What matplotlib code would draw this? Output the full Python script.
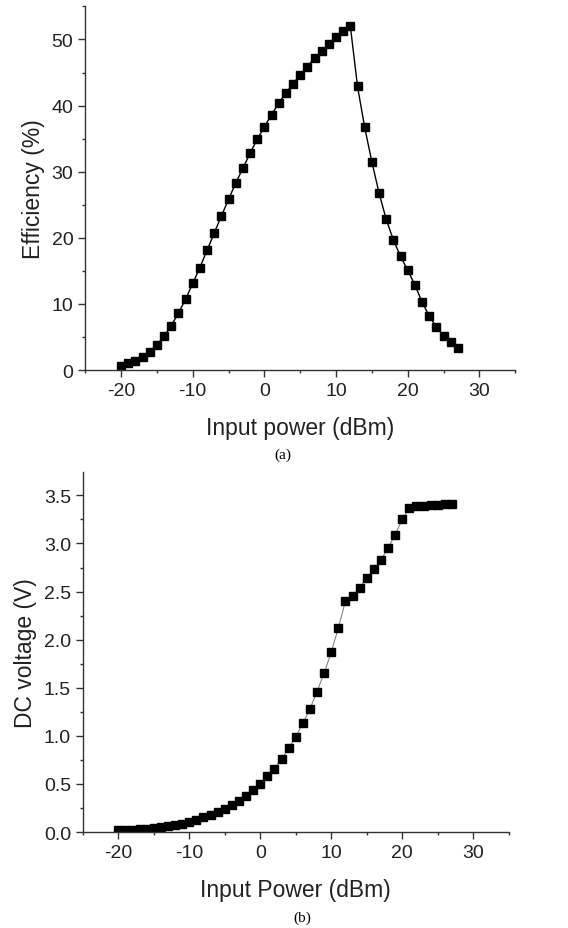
import matplotlib
matplotlib.use('Agg')
import matplotlib.pyplot as plt
from matplotlib.ticker import MultipleLocator

plt.rcParams['font.family'] = ['Liberation Sans', 'DejaVu Sans']
plt.rcParams['axes.unicode_minus'] = False

# input power (dBm), 1 dBm steps
p_in = list(range(-20, 28))

# (a) efficiency (%)
efficiency = [0.55, 1.0, 1.4, 1.9, 2.8, 3.8, 5.1, 6.7, 8.6, 10.7,
              13.1, 15.5, 18.1, 20.7, 23.3, 25.8, 28.3, 30.5, 32.8, 34.9,
              36.8, 38.6, 40.4, 41.9, 43.3, 44.7, 45.9, 47.2, 48.2, 49.3,
              50.4, 51.3, 52.0, 42.9, 36.7, 31.5, 26.8, 22.8, 19.7, 17.2,
              15.1, 12.9, 10.3, 8.2, 6.5, 5.2, 4.2, 3.3]

# (b) DC voltage (V)
dc_voltage = [0.02, 0.02, 0.025, 0.03, 0.035, 0.04, 0.05, 0.06, 0.07, 0.085,
              0.10, 0.13, 0.155, 0.18, 0.21, 0.24, 0.28, 0.32, 0.37, 0.44,
              0.50, 0.58, 0.66, 0.76, 0.87, 0.99, 1.13, 1.28, 1.46, 1.65,
              1.87, 2.12, 2.40, 2.45, 2.54, 2.64, 2.73, 2.83, 2.95, 3.09,
              3.25, 3.37, 3.385, 3.395, 3.40, 3.405, 3.41, 3.41]

fig = plt.figure(figsize=(5.68, 9.29), dpi=100)
ax1 = fig.add_axes([0.150, 0.6006, 0.757, 0.3914])
ax2 = fig.add_axes([0.1456, 0.1033, 0.750, 0.3872])


def style(ax):
    for s in ['top', 'right']:
        ax.spines[s].set_visible(False)
    for s in ['left', 'bottom']:
        ax.spines[s].set_color('#333333')
        ax.spines[s].set_linewidth(1.0)
    ax.tick_params(which='major', direction='out', length=5, width=1,
                   color='#333333', labelsize=14, labelcolor='#222222')
    ax.tick_params(which='minor', direction='out', length=2.5, width=1,
                   color='#333333')
    ax.set_xlim(-25, 35)
    ax.xaxis.set_major_locator(MultipleLocator(10))
    ax.xaxis.set_minor_locator(MultipleLocator(5))


ax1.plot(p_in, efficiency, color='black', lw=1.0, marker='s', ms=5.5,
         mfc='black', mec='black')
style(ax1)
ax1.set_ylim(0, 55)
ax1.yaxis.set_major_locator(MultipleLocator(10))
ax1.yaxis.set_minor_locator(MultipleLocator(5))
ax1.set_xlabel('Input power (dBm)', fontsize=16.5, color='#222222', labelpad=12)
ax1.set_ylabel('Efficiency (%)', fontsize=16.5, color='#222222', labelpad=5)

ax2.plot(p_in, dc_voltage, color='#777777', lw=0.7, marker='s', ms=5.5,
         mfc='black', mec='black')
style(ax2)
ax2.set_ylim(0, 3.74)
ax2.yaxis.set_major_locator(MultipleLocator(0.5))
ax2.yaxis.set_minor_locator(MultipleLocator(0.25))
ax2.yaxis.set_major_formatter(plt.FormatStrFormatter('%.1f'))
ax2.set_xlabel('Input Power (dBm)', fontsize=16.5, color='#222222', labelpad=12)
ax2.set_ylabel('DC voltage (V)', fontsize=16.5, color='#222222', labelpad=5)

fig.text(0.498, 0.510, '(a)', ha='center', va='center', fontsize=11,
         family='Liberation Serif')
fig.text(0.533, 0.012, '(b)', ha='center', va='center', fontsize=11,
         family='Liberation Serif')

fig.savefig('out.png', dpi=100)
